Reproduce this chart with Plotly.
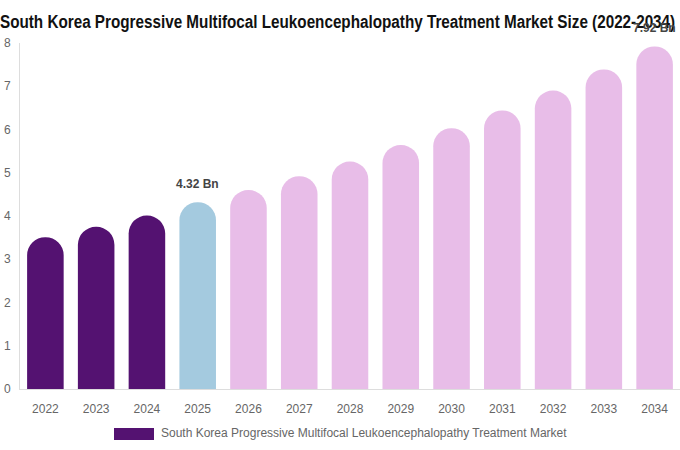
import plotly.graph_objects as go

# ==========================================
# DADOS
# ==========================================

anos = ["2022", "2023", "2024", "2025", "2026", "2027", "2028",
        "2029", "2030", "2031", "2032", "2033", "2034"]
valores = [3.51, 3.75, 4.01, 4.32, 4.60, 4.92, 5.26,
           5.64, 6.03, 6.44, 6.90, 7.39, 7.92]
rotulos = ["", "", "", "4.32 Bn", "", "", "", "", "", "", "", "", "7.92 Bn"]
cores = ["#541271"] * 3 + ["#A4CADF"] + ["#E8BDE8"] * 9

titulo = "South Korea Progressive Multifocal Leukoencephalopathy Treatment Market Size (2022-2034)"
legenda = "South Korea Progressive Multifocal Leukoencephalopathy Treatment Market"

# ==========================================
# GRAFICO
# ==========================================

fig = go.Figure()

fig.add_trace(
    go.Bar(
        x=anos,
        y=valores,
        marker=dict(color=cores, cornerradius="50%", line=dict(width=0)),
        showlegend=False,
    )
)

# rotulos acima das barras (x = indice da categoria)
rotulos_ann = []
for i, (valor, rotulo) in enumerate(zip(valores, rotulos)):
    if rotulo:
        rotulos_ann.append(dict(
            x=i, y=valor, text="<b>" + rotulo + "</b>",
            showarrow=False, yanchor="bottom", yshift=9,
            font=dict(size=12, color="#444444", family="Liberation Sans, Arial"),
        ))

fig.update_layout(
    title=dict(
        text="<b>" + titulo + "</b>",
        xref="container", x=0, xanchor="left", y=0.953, yanchor="middle",
        pad=dict(l=0, r=0, t=0, b=0),
        font=dict(size=18.5, color="#111111", family="Liberation Sans, Arial"),
    ),
    width=680,
    height=450,
    margin=dict(l=20, r=0, t=43, b=61),
    paper_bgcolor="white",
    plot_bgcolor="white",
    bargap=0.28,
    font=dict(family="Liberation Sans, Arial", size=12, color="#666666"),
    xaxis=dict(
        type="category", range=[-0.5, len(anos) - 0.5],
        showgrid=False, showline=True, linecolor="#DDDDDD", linewidth=1,
        ticks="", tickfont=dict(size=12, color="#666666"), ticklabelstandoff=9,
    ),
    yaxis=dict(
        range=[0, 8], dtick=1, showgrid=False, showline=True,
        linecolor="#DDDDDD", linewidth=1, ticks="", zeroline=False,
        tickfont=dict(size=12, color="#666666"), ticklabelstandoff=6,
    ),
    shapes=[
        dict(type="rect", xref="paper", yref="paper",
             x0=(114 - 20) / 660, x1=(154 - 20) / 660,
             y0=(389 - 440) / 346, y1=(389 - 428) / 346,
             fillcolor="#541271", line=dict(width=0)),
    ],
    annotations=rotulos_ann + [
        dict(text=legenda, xref="paper", yref="paper",
             x=(159 - 20) / 660, y=(389 - 433) / 346,
             xanchor="left", yanchor="middle", showarrow=False,
             font=dict(size=12, color="#666666")),
    ],
)

# tira a margem do body e estreita o titulo (fonte condensada)
js = """
document.body.style.margin = '0';
function estreitar() {
    document.querySelectorAll('.gtitle').forEach(function (t) {
        t.style.transformOrigin = '0px 0px';
        t.style.transform = 'scaleX(0.825)';
    });
}
estreitar();
var gd = document.getElementById('{plot_id}');
if (gd && gd.on) { gd.on('plotly_afterplot', estreitar); }
setTimeout(estreitar, 50);
"""

fig.write_html("out.html", config={"displayModeBar": False}, post_script=js)
